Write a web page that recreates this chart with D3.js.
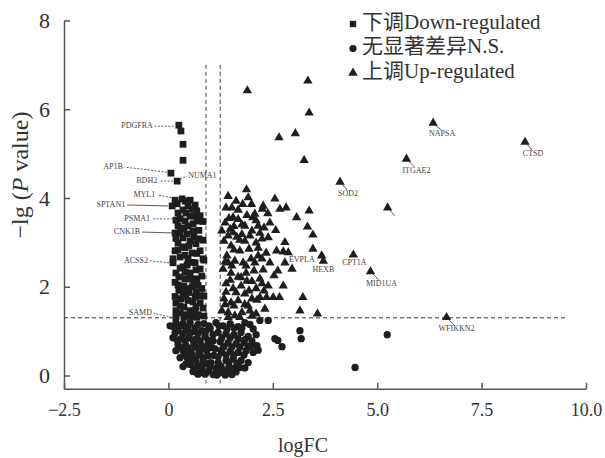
<!DOCTYPE html>
<html>
<head>
<meta charset="utf-8">
<script src="https://cdn.jsdelivr.net/npm/d3@7"></script>
<style>
  body { margin: 0; background: #fff; }
  svg { display: block; }
  svg text { font-family: Liberation Serif, DejaVu Serif, Noto Sans CJK SC, serif; }
</style>
</head>
<body>
<div id="chart"></div>
<script>
// ---- data: [logFC, -lg(P)] ----
const xTicks = [-2.5, 0, 2.5, 5.0, 7.5, 10.0]
const yTicks = [0, 2, 4, 6, 8]
const legendLabels = ["下调Down-regulated", "无显著差异N.S.", "上调Up-regulated"]
const pCutoff = 1.3
const fcCutoffs = [0.9, 1.24]

const downRegulated = [
  [0.25,5.64],[0.30,5.51],[0.35,5.21],[0.35,4.85],[0.06,4.56],[0.21,4.38],
  [0.33,3.98],[0.40,3.93],[0.21,3.87],[0.09,3.82],[0.47,3.82],[0.57,3.75],[0.68,3.71],
  [0.76,3.60],[0.68,3.48],[0.28,3.53],[0.40,3.48],[0.23,3.37],[0.47,3.37],[0.28,3.21],
  [0.45,3.19],[0.59,3.26],[0.35,3.10],[0.52,3.03],[0.23,2.99],[0.66,2.97],[0.40,2.88],
  [0.16,2.81],[0.57,2.76],[0.76,2.81],[0.28,2.67],[0.47,2.63],[0.11,2.54],[0.64,2.54],
  [0.35,2.45],[0.76,2.40],[0.18,2.31],[0.52,2.31],[0.40,2.18],[0.68,2.18],[0.23,2.04],
  [0.57,2.00],[0.80,1.96],[0.35,1.87],[0.16,1.78],[0.64,1.78],[0.47,1.69],[0.28,1.57],
  [0.76,1.64],[0.52,1.46],[0.18,1.46],[0.40,1.37],[0.71,1.37],[0.18,1.31],
  [0.33,2.90],[0.61,3.12],[0.42,3.66],[0.30,3.30],[0.73,3.08],[0.16,3.21],[0.45,2.49],
  [0.61,2.13],[0.30,1.73],[0.66,1.55],[0.49,1.87],[0.25,2.22],[0.78,1.80],[0.37,2.02],
  [0.11,2.63],[0.54,1.33],[0.61,3.60],[0.83,2.63],[0.23,3.66],
  [0.16,3.95],[0.52,3.95],[0.64,3.84],[0.35,3.73],[0.52,3.59],[0.18,3.50],[0.83,3.47],
  [0.59,3.42],[0.37,3.32],[0.73,3.27],[0.18,3.09],[0.83,3.05],[0.49,2.92],[0.23,2.83],
  [0.68,2.75],[0.40,2.71],[0.85,2.60],[0.57,2.55],[0.28,2.42],[0.66,2.38],[0.40,2.33],
  [0.80,2.24],[0.54,2.17],[0.16,2.10],[0.71,2.03],[0.45,1.96],[0.25,1.92],[0.66,1.88],
  [0.85,1.79],[0.42,1.77],[0.59,1.66],[0.18,1.63],[0.37,1.54],[0.83,1.52],[0.64,1.47],
  [0.28,1.41],[0.52,1.34],[0.85,1.34],[0.68,1.31],[0.37,1.31]
]

const notSignificant = [
  [0.04,1.12],[0.18,1.19],[0.35,1.17],[0.52,1.19],[0.71,1.15],[0.85,1.17],
  [0.23,1.01],[0.42,1.01],[0.61,0.99],[0.80,1.01],[0.11,0.85],[0.30,0.83],[0.49,0.85],
  [0.68,0.83],[0.88,0.88],[0.23,0.70],[0.42,0.67],[0.61,0.70],[0.80,0.67],[0.35,0.56],
  [0.54,0.54],[0.73,0.52],[0.92,0.56],[0.45,0.40],[0.64,0.38],[0.83,0.40],[0.52,0.25],
  [0.71,0.22],[0.90,0.27],[0.59,0.09],[0.78,0.07],[0.97,0.11],[0.28,0.40],[0.18,0.56],
  [0.35,0.20],
  [0.95,0.79],[1.04,0.63],[1.09,0.45],[1.02,0.29],[1.14,0.16],[1.07,0.02],[1.24,0.07],
  [1.19,0.29],[1.28,0.52],[1.38,0.34],[1.33,0.11],[1.45,0.20],[1.52,0.02],[0.88,0.03],
  [0.71,0.03],[1.00,1.06],[1.07,0.92],
  [1.14,1.19],[1.31,1.12],[1.48,1.17],[1.67,1.10],[1.83,1.19],[1.95,1.15],[2.19,1.24],
  [2.39,1.24],[1.19,0.97],[1.38,0.94],[1.57,0.92],[1.74,0.97],[1.91,0.88],[2.10,0.92],
  [1.24,0.76],[1.43,0.74],[1.62,0.72],[1.81,0.74],[1.98,0.67],[2.03,0.52],[1.26,0.56],
  [1.48,0.54],[1.67,0.52],[1.86,0.56],[1.55,0.38],[1.74,0.34],[1.71,0.18],[1.91,0.29],
  [1.57,0.16],[2.55,0.83],[2.62,0.79],[2.72,0.65],[3.15,1.01],[3.18,0.83],[2.12,0.67],
  [5.24,0.92],[4.47,0.18],
  [0.13,1.09],[0.30,1.12],[0.47,1.09],[0.64,1.07],[0.97,1.12],[0.16,0.96],[0.35,0.94],
  [0.52,0.96],[0.71,0.94],[0.90,1.00],[0.21,0.80],[0.40,0.78],[0.59,0.80],[0.76,0.78],
  [0.95,0.69],[0.28,0.64],[0.47,0.62],[0.66,0.64],[0.85,0.60],[0.40,0.48],[0.57,0.46],
  [0.76,0.46],[0.95,0.44],[0.49,0.33],[0.66,0.33],[0.83,0.30],[0.61,0.17],[0.80,0.17],
  [1.00,0.21],[0.42,0.26],[0.68,0.06],[0.90,0.06],[1.16,0.01],[1.36,0.01],[1.26,0.21],
  [1.19,0.42],[1.12,0.60],[1.07,0.78],
  [1.21,1.12],[1.40,1.05],[1.57,1.07],[1.76,1.07],[2.03,1.05],[1.28,0.85],[1.48,0.85],
  [1.67,0.83],[1.83,0.81],[2.00,0.78],[1.33,0.65],[1.52,0.64],[1.71,0.64],[1.91,0.65],
  [1.38,0.46],[1.57,0.46],[1.81,0.46],[1.45,0.30],[1.64,0.28],[1.83,0.17],[1.62,0.08],
  [1.43,0.06],[2.15,0.57]
]

const upRegulated = [
  [1.52,3.78],[1.87,4.19],[1.91,4.01],[1.67,3.52],[1.55,3.56],[1.83,3.37],[1.55,3.22],
  [1.76,3.18],[1.78,3.86],[1.99,3.86],[2.27,3.82],[2.25,3.75],[2.38,3.65],[2.55,3.98],
  [2.67,3.75],[2.82,3.78],[3.37,3.71],[3.07,3.56],[2.02,3.56],[3.33,3.35],[3.46,3.17],
  [2.79,3.00],[2.57,3.27],[2.39,3.11],[3.46,2.85],[2.59,2.81],[2.75,2.79],[2.87,2.77],
  [2.27,2.38],[3.22,1.76],[2.75,2.02],[2.19,1.76],[2.35,1.76],[2.51,1.76],[2.66,1.76],
  [3.15,1.46],[3.57,1.39],[2.31,1.50],[1.95,1.46],[1.43,4.04],[1.62,3.93],[2.07,3.64],
  [2.43,3.44],[2.19,3.21],[2.79,2.54],[2.96,2.40],[2.62,2.36],
  [1.36,3.44],[1.48,3.30],[1.64,3.12],[1.83,3.03],[2.00,3.26],[2.15,3.37],[1.33,3.03],
  [1.50,2.92],[1.71,2.81],[1.93,2.85],[2.10,2.99],[2.24,3.08],[1.40,2.70],[1.59,2.58],
  [1.79,2.54],[1.98,2.63],[2.15,2.70],[2.34,2.76],[1.31,2.40],[1.50,2.31],[1.67,2.22],
  [1.86,2.31],[2.05,2.36],[2.19,2.18],[1.38,2.07],[1.55,1.96],[1.74,2.02],[1.93,1.91],
  [2.10,1.96],[1.33,1.73],[1.50,1.64],[1.67,1.69],[1.83,1.60],[2.00,1.73],[1.43,1.42],
  [1.59,1.35],[1.76,1.42],[2.10,1.39],[1.28,1.46],[2.43,2.54],[2.53,2.25],[2.39,2.02],
  [1.28,3.26],[1.43,2.54],[1.62,1.87],[1.88,2.13],[2.29,1.91],[2.24,2.63],
  [1.38,3.78],[1.67,3.73],[1.88,3.61],[1.45,3.54],[2.10,3.49],[1.76,3.40],[1.57,3.36],
  [2.29,3.33],[1.95,3.15],[1.43,3.15],[1.71,3.05],[2.15,2.87],[1.57,2.83],[1.36,2.56],
  [1.86,2.47],[2.07,2.54],[1.52,2.47],[1.74,2.21],[2.00,2.12],[1.48,2.15],[2.24,2.07],
  [1.83,1.84],[1.38,1.88],[2.12,1.70],[1.57,1.57],[1.91,1.57],[1.36,1.60],[1.71,1.31],
  [2.00,1.34],[1.43,1.31],
  [1.89,6.42],[3.34,6.64],[3.37,5.92],[2.65,5.36],[3.04,5.45],[3.25,4.85],
  [4.11,4.36],[5.70,4.88],[5.25,3.78],[6.34,5.69],[8.54,5.26],[3.67,2.70],[3.71,2.58],
  [4.43,2.72],[4.84,2.34],[6.66,1.31]
]

const geneNames = ["PDGFRA","AP1B","BDH2","NUMA1","MYL1","SPTAN1","PSMA1","CNK1B","ACSS2","SAMD",
  "NAPSA","CTSD","ITGAE2","SOD2","","EVPLA","HEXB","CPT1A","MID1UA","WFIKKN2"]
const geneFC = [0.25,0.06,0.21,0.21,0.33,0.09,0.28,0.28,0.11,0.18,
  6.34,8.54,5.70,4.11,5.25,3.67,3.71,4.43,4.84,6.66]
const geneP = [5.64,4.56,4.38,4.38,3.98,3.82,3.53,3.21,2.54,1.31,
  5.69,5.26,4.88,4.36,3.78,2.70,2.58,2.72,2.34,1.31]

// label placement (pixels, relative to the point): dx, dy, anchor, leader, dashed
const labelLayout = [
  [-26,1,"end",[-5,1,-24,1],true], [-48,-6,"end",[-4,-1,-46,-6],true],
  [-20,0,"end",[-4,0,-18,0],true], [11,-5,"start",[3,-2,10,-5],true],
  [-27,-4,"end",[-4,0,-25,-4],true], [-47,-1,"end",[-4,0,-45,-1],false],
  [-30,0,"end",[-4,0,-28,0],true], [-40,-1,"end",[-4,0,-38,-1],false],
  [-25,-2,"end",[-4,0,-23,-2],true], [-24,-4,"end",[-4,0,-22,-4],true],
  [9,11,"middle",[2,2,8,7],false], [8,12,"middle",[2,2,7,8],false],
  [10,12,"middle",[2,2,8,8],false], [8,12,"middle",[2,2,7,8],false],
  [0,0,"middle",[2,2,7,8],false], [-7,4,"end",null,false],
  [0,9,"middle",null,false], [1,8,"middle",null,false],
  [11,13,"middle",[2,2,8,8],false], [10,12,"middle",[2,2,8,8],false]
]

// ---- chart ----
const WIDTH = 605
const HEIGHT = 458
const INK = "#1e1e1e"

const svg = d3.select("#chart").append("svg")
    .attr("width", WIDTH)
    .attr("height", HEIGHT)

const x = d3.scaleLinear().domain([-2.5, 10]).range([64, 586])
const y = d3.scaleLinear().domain([-0.3, 8]).range([388.8, 20.5])

// threshold lines
svg.append("line")
    .attr("x1", x(-2.5)).attr("x2", x(9.5))
    .attr("y1", y(pCutoff)).attr("y2", y(pCutoff))
    .attr("stroke", "#333").attr("stroke-dasharray", "4,3")

svg.selectAll(".vcut").data(fcCutoffs).join("line")
    .attr("x1", d => x(d)).attr("x2", d => x(d))
    .attr("y1", y(7)).attr("y2", y(-0.18))
    .attr("stroke", "#444").attr("stroke-dasharray", "4,3")

// points
const pointTransform = d => `translate(${x(d[0])},${y(d[1])})`

svg.append("g").selectAll("path").data(notSignificant).join("path")
    .attr("transform", pointTransform)
    .attr("d", d3.symbol().type(d3.symbolCircle).size(42))
    .attr("fill", INK)

svg.append("g").selectAll("path").data(downRegulated).join("path")
    .attr("transform", pointTransform)
    .attr("d", d3.symbol().type(d3.symbolSquare).size(46))
    .attr("fill", INK)

svg.append("g").selectAll("path").data(upRegulated).join("path")
    .attr("transform", pointTransform)
    .attr("d", d3.symbol().type(d3.symbolTriangle).size(38))
    .attr("fill", INK)

// gene labels
const genes = geneNames.map((name, i) => ({ name, fc: geneFC[i], p: geneP[i], lay: labelLayout[i] }))
const gl = svg.append("g").selectAll("g").data(genes).join("g")
    .attr("transform", d => `translate(${x(d.fc)},${y(d.p)})`)

gl.filter(d => d.lay[3]).append("line")
    .attr("x1", d => d.lay[3][0]).attr("y1", d => d.lay[3][1])
    .attr("x2", d => d.lay[3][2]).attr("y2", d => d.lay[3][3])
    .attr("stroke", "#333").attr("stroke-width", 0.8)
    .attr("stroke-dasharray", d => d.lay[4] ? "2,1.5" : null)

gl.append("text")
    .attr("x", d => d.lay[0]).attr("y", d => d.lay[1])
    .attr("text-anchor", d => d.lay[2])
    .attr("dominant-baseline", "middle")
    .attr("font-size", 8)
    .attr("fill", "#444")
    .text(d => d.name)

// axes
const xAxis = svg.append("g")
    .attr("transform", `translate(0,${y(-0.3)})`)
    .call(d3.axisBottom(x).tickValues(xTicks).tickSize(-6).tickSizeOuter(0).tickPadding(14)
        .tickFormat(d => d === 0 ? "0" : d3.format(".1f")(d)))
const yAxis = svg.append("g")
    .attr("transform", `translate(${x(-2.5)},0)`)
    .call(d3.axisLeft(y).tickValues(yTicks).tickSize(-6).tickSizeOuter(0).tickPadding(14))

for (const ax of [xAxis, yAxis]) {
    ax.attr("font-family", null)
    ax.select(".domain").attr("stroke", "#555").attr("stroke-width", 1.5)
    ax.selectAll(".tick line").attr("stroke", "#555").attr("stroke-width", 1.5)
    ax.selectAll("text").attr("fill", "#333")
}
xAxis.selectAll("text").attr("font-size", 18)
yAxis.selectAll("text").attr("font-size", 22)

svg.append("text")
    .attr("x", 303).attr("y", 447)
    .attr("text-anchor", "middle").attr("dominant-baseline", "middle")
    .attr("font-size", 20).attr("fill", "#333")
    .text("logFC")

svg.append("text")
    .attr("transform", "translate(22,175) rotate(-90)")
    .attr("text-anchor", "middle").attr("dominant-baseline", "middle")
    .attr("font-size", 24).attr("fill", "#333")
    .html("−lg (<tspan font-style='italic'>P</tspan> value)")

// legend
const legendShapes = [d3.symbolSquare, d3.symbolCircle, d3.symbolTriangle]
const legend = svg.append("g").selectAll("g").data(legendLabels).join("g")
    .attr("transform", (d, i) => `translate(353,${24 + i * 24.5})`)
legend.append("path")
    .attr("d", (d, i) => d3.symbol().type(legendShapes[i]).size(40)())
    .attr("fill", INK)
legend.append("text")
    .attr("x", 9).attr("dominant-baseline", "middle")
    .attr("font-size", 21).attr("fill", "#333")
    .text(d => d)
</script>
</body>
</html>
